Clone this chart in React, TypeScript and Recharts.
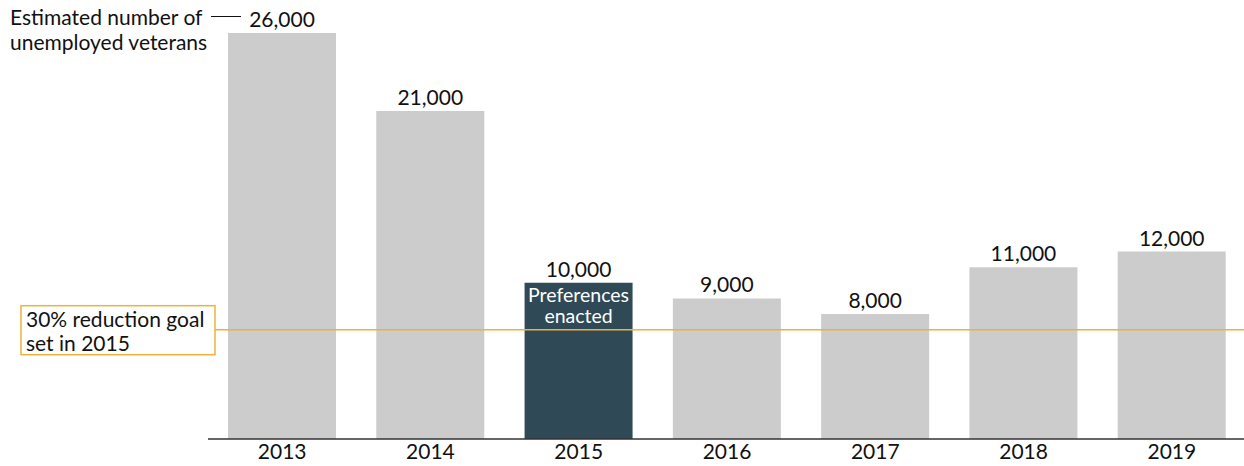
import React from 'react';
import { BarChart, Bar, XAxis, YAxis, ReferenceLine, LabelList, Cell } from 'recharts';

const years = ['2013', '2014', '2015', '2016', '2017', '2018', '2019'];
const unemployed = [26000, 21000, 10000, 9000, 8000, 11000, 12000];
const highlightYear = '2015';
const goalValue = 7000;

const data = years.map((year, i) => ({ year, value: unemployed[i] }));

const FONT = 'Lato, "Open Sans", sans-serif';
const GOLD = '#EDB23A';
const DARK = '#2F4A56';
const GRAY = '#CCCCCC';

const GoalLabel = (props: any) => {
  const { viewBox } = props;
  if (!viewBox) return null;
  const bx = viewBox.x - 187;
  const by = viewBox.y - 24;
  return (
    <g>
      <rect x={bx} y={by} width={194} height={49} fill="#fff" stroke={GOLD} strokeWidth={1.5} />
      <text x={bx + 5} y={by + 21} fontSize={21} fill="#111" fontFamily={FONT}>30% reduction goal</text>
      <text x={bx + 5} y={by + 45} fontSize={21} fill="#111" fontFamily={FONT}>set in 2015</text>
    </g>
  );
};

const ValueLabel = (props: any) => {
  const { x, y, width, value, index } = props;
  const cx = x + width / 2;
  return (
    <g>
      <text x={cx} y={y - 6} textAnchor="middle" fontSize={21} fill="#111" fontFamily={FONT}>
        {Number(value).toLocaleString('en-US')}
      </text>
      {years[index] === highlightYear && (
        <>
          <text x={cx} y={y + 19} textAnchor="middle" fontSize={19.5} fill="#fff" fontFamily={FONT}>Preferences</text>
          <text x={cx} y={y + 40} textAnchor="middle" fontSize={19.5} fill="#fff" fontFamily={FONT}>enacted</text>
        </>
      )}
    </g>
  );
};

export default function App() {
  return (
    <div style={{ position: 'absolute', left: 0, top: 0, width: 1244, height: 466, background: '#fff', fontFamily: FONT }}>
      <BarChart width={1244} height={466} data={data} margin={{ top: 33, right: -2, left: 208, bottom: 0 }}>
        <XAxis
          dataKey="year"
          tickLine={false}
          axisLine={{ stroke: '#333', strokeWidth: 1.5 }}
          height={27}
          tick={{ fontSize: 21, fill: '#111', fontFamily: FONT }}
          tickMargin={-1}
        />
        <YAxis hide domain={[0, 26000]} />
        <Bar dataKey="value" barSize={108} isAnimationActive={false}>
          {data.map((d) => (
            <Cell key={d.year} fill={d.year === highlightYear ? DARK : GRAY} />
          ))}
          <LabelList dataKey="value" content={ValueLabel} />
        </Bar>
        <ReferenceLine y={goalValue} stroke={GOLD} strokeWidth={1.5} label={GoalLabel} />
      </BarChart>
      <div style={{ position: 'absolute', left: 10, top: 4, fontSize: 21, lineHeight: '25px', color: '#111' }}>
        Estimated number of<br />unemployed veterans
      </div>
      <div style={{ position: 'absolute', left: 211, top: 16, width: 30, borderTop: '1.5px solid #111' }} />
    </div>
  );
}
